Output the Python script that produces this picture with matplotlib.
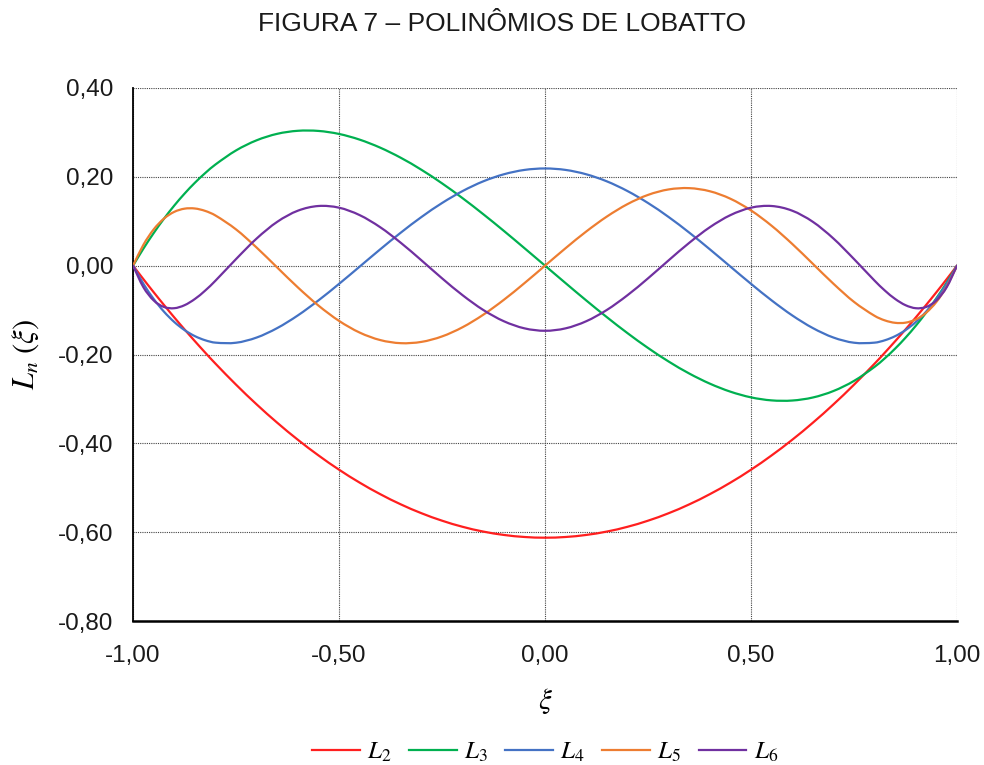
import matplotlib.pyplot as plt
from matplotlib.path import Path
from matplotlib.patches import PathPatch
from matplotlib.lines import Line2D
from matplotlib.ticker import FuncFormatter

plt.rcParams["font.family"] = ["Liberation Sans", "DejaVu Sans"]
plt.rcParams["mathtext.fontset"] = "stix"

# abscissa (denser close to the endpoints)
xi = [-1.0, -0.975, -0.95, -0.925, -0.9, -0.875, -0.85, -0.825, -0.8,
      -0.75, -0.7, -0.65, -0.6, -0.55, -0.5, -0.45, -0.4, -0.35, -0.3,
      -0.25, -0.2, -0.15, -0.1, -0.05, 0.0, 0.05, 0.1, 0.15, 0.2, 0.25,
      0.3, 0.35, 0.4, 0.45, 0.5, 0.55, 0.6, 0.65, 0.7, 0.75, 0.8,
      0.825, 0.85, 0.875, 0.9, 0.925, 0.95, 0.975, 1.0]

L2 = [0.0, -0.0302, -0.0597, -0.0884, -0.1164, -0.1435, -0.1699, -0.1956, -0.2205,
      -0.2679, -0.3123, -0.3536, -0.3919, -0.4271, -0.4593, -0.4884, -0.5144, -0.5374, -0.5573,
      -0.5741, -0.5879, -0.5986, -0.6062, -0.6108, -0.6124, -0.6108, -0.6062, -0.5986, -0.5879, -0.5741,
      -0.5573, -0.5374, -0.5144, -0.4884, -0.4593, -0.4271, -0.3919, -0.3536, -0.3123, -0.2679, -0.2205,
      -0.1956, -0.1699, -0.1435, -0.1164, -0.0884, -0.0597, -0.0302, 0.0]

L3 = [0.0, 0.0381, 0.0732, 0.1056, 0.1352, 0.1621, 0.1865, 0.2083, 0.2277,
      0.2594, 0.2822, 0.2968, 0.3036, 0.3033, 0.2965, 0.2837, 0.2656, 0.2428, 0.2158,
      0.1853, 0.1518, 0.1159, 0.0783, 0.0394, 0.0, -0.0394, -0.0783, -0.1159, -0.1518, -0.1853,
      -0.2158, -0.2428, -0.2656, -0.2837, -0.2965, -0.3033, -0.3036, -0.2968, -0.2822, -0.2594, -0.2277,
      -0.2083, -0.1865, -0.1621, -0.1352, -0.1056, -0.0732, -0.0381, 0.0]

L4 = [0.0, -0.0405, -0.0749, -0.1035, -0.1268, -0.1450, -0.1586, -0.1679, -0.1733,
      -0.1735, -0.1618, -0.1405, -0.1120, -0.0782, -0.0410, -0.0022, 0.0368, 0.0744, 0.1095,
      0.1410, 0.1680, 0.1898, 0.2057, 0.2155, 0.2188, 0.2155, 0.2057, 0.1898, 0.1680, 0.1410,
      0.1095, 0.0744, 0.0368, -0.0022, -0.0410, -0.0782, -0.1120, -0.1405, -0.1618, -0.1735, -0.1733,
      -0.1679, -0.1586, -0.1450, -0.1268, -0.1035, -0.0749, -0.0405, 0.0]

L5 = [0.0, 0.0467, 0.0815, 0.1059, 0.1211, 0.1283, 0.1287, 0.1233, 0.1130,
      0.0816, 0.0407, -0.0042, -0.0489, -0.0898, -0.1243, -0.1506, -0.1675, -0.1745, -0.1716,
      -0.1593, -0.1385, -0.1105, -0.0769, -0.0394, 0.0, 0.0394, 0.0769, 0.1105, 0.1385, 0.1593,
      0.1716, 0.1745, 0.1675, 0.1506, 0.1243, 0.0898, 0.0489, 0.0042, -0.0407, -0.0816, -0.1130,
      -0.1233, -0.1287, -0.1283, -0.1211, -0.1059, -0.0815, -0.0467, 0.0]

L6 = [0.0, -0.0483, -0.0782, -0.0930, -0.0958, -0.0890, -0.0751, -0.0562, -0.0339,
      0.0148, 0.0611, 0.0987, 0.1237, 0.1343, 0.1305, 0.1138, 0.0865, 0.0514, 0.0120,
      -0.0285, -0.0666, -0.0997, -0.1251, -0.1411, -0.1466, -0.1411, -0.1251, -0.0997, -0.0666, -0.0285,
      0.0120, 0.0514, 0.0865, 0.1138, 0.1305, 0.1343, 0.1237, 0.0987, 0.0611, 0.0148, -0.0339,
      -0.0562, -0.0751, -0.0890, -0.0958, -0.0930, -0.0782, -0.0483, 0.0]

series = [("$L_2$", L2, "#FF1F1F"), ("$L_3$", L3, "#00B050"), ("$L_4$", L4, "#4472C4"),
          ("$L_5$", L5, "#ED7D31"), ("$L_6$", L6, "#7030A0")]

xticks = [-1.0, -0.5, 0.0, 0.5, 1.0]
yticks = [-0.8, -0.6, -0.4, -0.2, 0.0, 0.2, 0.4]


def smooth_path(xs, ys):
    # smoothed line through the points: cubic Bezier segments
    n = len(xs)
    slopes = []
    for i in range(n):
        a = max(i - 1, 0)
        b = min(i + 1, n - 1)
        slopes.append((ys[b] - ys[a]) / (xs[b] - xs[a]))
    verts = [(xs[0], ys[0])]
    codes = [Path.MOVETO]
    for i in range(n - 1):
        h = xs[i + 1] - xs[i]
        verts += [(xs[i] + h / 3, ys[i] + slopes[i] * h / 3),
                  (xs[i + 1] - h / 3, ys[i + 1] - slopes[i + 1] * h / 3),
                  (xs[i + 1], ys[i + 1])]
        codes += [Path.CURVE4] * 3
    return Path(verts, codes)


fig = plt.figure(figsize=(9.84, 7.65), dpi=100)
ax = fig.add_axes([0.1352, 0.1882, 0.8374, 0.6968])

handles = []
for label, ys, color in series:
    ax.add_patch(PathPatch(smooth_path(xi, ys), facecolor="none", edgecolor=color,
                           lw=1.6, zorder=3, capstyle="round", joinstyle="round"))
    handles.append(Line2D([], [], color=color, lw=1.6, label=label))

ax.set_xlim(-1, 1)
ax.set_ylim(-0.8, 0.4)
ax.set_xticks(xticks)
ax.set_yticks(yticks)
comma = FuncFormatter(lambda v, p: f"{v:.2f}".replace(".", ","))
ax.xaxis.set_major_formatter(comma)
ax.yaxis.set_major_formatter(comma)
ax.tick_params(length=0, labelsize=17.5, labelcolor="#1a1a1a")
ax.tick_params(axis="x", pad=17)
ax.tick_params(axis="y", pad=14)

ax.grid(True, color="#444444", lw=0.8, linestyle=(0, (1, 1)))
for side in ["top", "right"]:
    ax.spines[side].set_visible(False)
ax.spines["left"].set_linewidth(1.3)
ax.spines["bottom"].set_linewidth(1.8)

ax.set_xlabel(r"$\xi$", fontsize=21, labelpad=14)
ax.set_ylabel(r"$L_n\ (\xi)$", fontsize=22, labelpad=12)

fig.suptitle("FIGURA 7 – POLINÔMIOS DE LOBATTO", fontsize=19, y=0.984,
             x=0.51, color="#1a1a1a")

ax.legend(handles=handles, loc="center", bbox_to_anchor=(0.5, -0.245), ncol=5,
          frameon=False, fontsize=18, handlelength=1.9, columnspacing=0.7,
          handletextpad=0.3)

plt.savefig("out.png", dpi=100)
